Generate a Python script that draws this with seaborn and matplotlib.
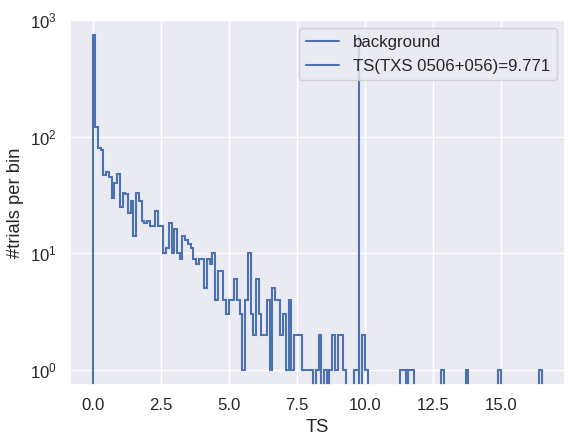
import numpy as np
import matplotlib
matplotlib.use("Agg")
import matplotlib.pyplot as plt
import seaborn as sns

# histogram of background TS trials, bin width 0.1
bin_width = 0.1
counts = [750, 120, 80, 76, 47, 50, 45, 30, 40, 48,
          25, 33, 32, 22, 28, 14, 33, 28, 19, 18,
          19, 17, 17, 23, 17, 17, 10, 11, 18, 10,
          16, 10, 9, 14, 13, 12, 11, 9, 8, 9,
          9, 5, 9, 8, 10, 4, 7, 7, 4, 3,
          4, 4, 6, 4, 3, 1, 4, 10, 3, 2,
          6, 3, 2, 2, 4, 1, 5, 4, 4, 2,
          3, 1, 4, 1, 2, 2, 2, 1, 1, 1,
          1, 0, 1, 2, 0, 1, 0, 1, 2, 1,
          2, 2, 1, 0, 0, 0, 1, 1, 0, 2,
          1, 0, 0, 0, 0, 0, 0, 0, 0, 0,
          0, 0, 0, 1, 1, 0, 1, 1, 0, 0,
          0, 0, 0, 0, 0, 0, 0, 0, 1, 0,
          0, 0, 0, 0, 0, 0, 0, 1, 0, 0,
          0, 0, 0, 0, 0, 0, 0, 0, 0, 1,
          0, 0, 0, 0, 0, 0, 0, 0, 0, 0,
          0, 0, 0, 0, 1]
ts_source = 9.771
ts_label = "TS(TXS 0506+056)=9.771"

sns.set_theme(font_scale=1.1)
plt.rcParams['font.family'] = ['Liberation Sans', 'DejaVu Sans']
edges = np.arange(len(counts) + 1) * bin_width

fig = plt.figure(figsize=(5.74, 4.45), dpi=100)
ax = fig.add_axes([70 / 574, 1 - 385 / 445, 495 / 574, 365 / 445])
color = sns.color_palette()[0]
ax.stairs(counts, edges, color=color, linewidth=1.5, label="background")
ax.plot([ts_source, ts_source], [1e-3, max(counts)], color=color,
        linewidth=1.5, label=ts_label)
ax.set_yscale("log")
ax.set_ylim(0.74, 1000)
ax.set_xlim(-0.83, 17.35)
ax.set_xlabel("TS")
ax.set_ylabel("#trials per bin")
ax.legend(loc="upper right")
fig.savefig("out.png", dpi=100)
